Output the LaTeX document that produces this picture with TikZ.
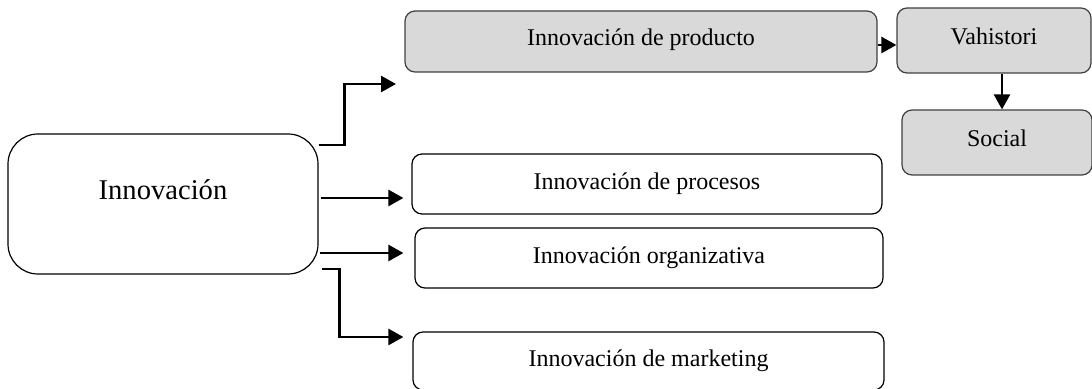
\documentclass[tikz,border=0pt]{standalone}
\usepackage{fontspec}
\setmainfont{Liberation Serif}
\definecolor{mygrey}{HTML}{D9D9D9}
\usetikzlibrary{arrows.meta, calc}
\tikzset{
	defaultnode/.style={
			rectangle,
			rounded corners=5pt,
			draw=black,
			line width=0.6pt,
			fill=white,
			inner sep=0pt,
			font=\fontsize{12}{14}\selectfont
		},
	greynode/.style={
			defaultnode,
			draw=black!75,
			fill=mygrey
		},
	mainnode/.style={
			defaultnode,
			rounded corners=15pt,
			font=\fontsize{14.3}{17}\selectfont,
			text height=10pt,
			text depth=14pt
		},
	arrowline/.style={
			line width=1.3pt,
			-{Triangle[length=7.5pt,width=8pt]}
		}
}

\begin{document}
\begin{tikzpicture}[x=0.5pt, y=-0.5pt]
\useasboundingbox (0,0) rectangle (1092,389);

\node[mainnode, minimum width=155pt, minimum height=70pt] (inno) at (163,204) {Innovación};
\node[greynode, minimum width=236pt, minimum height=30.5pt, text depth=4pt] (prod) at (641,41.5) {Innovación de producto};
\node[greynode, minimum width=97pt, minimum height=32.5pt, text depth=4pt] (vahi) at (994,40.5) {Vahistori};
\node[greynode, minimum width=95pt, minimum height=32.5pt, text depth=4pt] (soc) at (997,142.5) {Social};
\node[defaultnode, minimum width=235pt, minimum height=30pt] (proc) at (647,184) {Innovación de procesos};
\node[defaultnode, minimum width=234pt, minimum height=30pt] (org) at (649,258) {Innovación organizativa};
\node[defaultnode, minimum width=235.5pt, minimum height=29pt] (mkt) at (648.5,361) {Innovación de marketing};

\coordinate (prodin) at (396,84);

\draw[arrowline] ([yshift=29.5pt]inno.east) -- ++(13pt,0) |- (prodin);
\draw[arrowline, shorten <=1pt, shorten >=4pt]
  ([yshift=3pt]inno.east) -- ([yshift=3pt]inno.east -| proc.west);
\draw[arrowline, shorten <=0.5pt, shorten >=5.5pt]
  ([yshift=-24.5pt]inno.east) -- ([yshift=-24.5pt]inno.east -| org.west);
\draw[arrowline, shorten <=1.5pt, shorten >=4.5pt]
  ([yshift=-32.5pt]inno.east) -- ++(10.5pt,0) |- ([yshift=12pt]mkt.west);

\draw[arrowline] ([yshift=-1.75pt]prod.east) -- ([yshift=-1.75pt]prod.east -| vahi.west);
\draw[arrowline] ([xshift=4pt]vahi.south) -- ([xshift=4pt]vahi.south |- soc.north);

\end{tikzpicture}
\end{document}
